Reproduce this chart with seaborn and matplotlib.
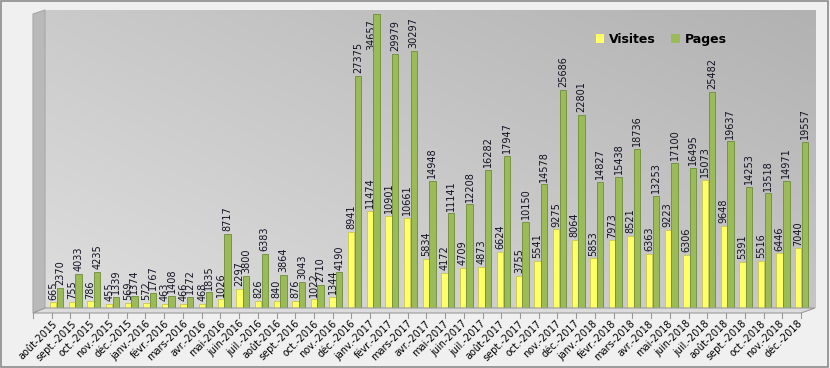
# monthly visits / pages chart
import numpy as np
import pandas as pd
import matplotlib
matplotlib.use('Agg')
import matplotlib.pyplot as plt
from matplotlib.patches import Polygon, Rectangle
from matplotlib.transforms import ScaledTranslation
import seaborn as sns

# data
months = ['août-2015', 'sept.-2015', 'oct.-2015', 'nov.-2015', 'déc.-2015',
          'janv.-2016', 'févr.-2016', 'mars-2016', 'avr.-2016', 'mai-2016',
          'juin-2016', 'juil.-2016', 'août-2016', 'sept.-2016', 'oct.-2016',
          'nov.-2016', 'déc.-2016', 'janv.-2017', 'févr.-2017', 'mars-2017',
          'avr.-2017', 'mai-2017', 'juin-2017', 'juil.-2017', 'août-2017',
          'sept.-2017', 'oct.-2017', 'nov.-2017', 'déc.-2017', 'janv.-2018',
          'févr.-2018', 'mars-2018', 'avr.-2018', 'mai-2018', 'juin-2018',
          'juil.-2018', 'août-2018', 'sept.-2018', 'oct.-2018', 'nov.-2018',
          'déc.-2018']
visites = [665, 755, 786, 455, 569, 572, 463, 466, 468, 1026,
           2297, 826, 840, 876, 1022, 1344, 8941, 11474, 10901, 10661,
           5834, 4172, 4709, 4873, 6624, 3755, 5541, 9275, 8064, 5853,
           7973, 8521, 6363, 9223, 6306, 15073, 9648, 5391, 5516, 6446,
           7040]
pages = [2370, 4033, 4235, 1339, 1374, 1767, 1408, 1272, 1835, 8717,
         3800, 6383, 3864, 3043, 2710, 4190, 27375, 34657, 29979, 30297,
         14948, 11141, 12208, 16282, 17947, 10150, 14578, 25686, 22801, 14827,
         15438, 18736, 13253, 17100, 16495, 25482, 19637, 14253, 13518, 14971,
         19557]

df = pd.DataFrame({'mois': months * 2,
                   'valeur': visites + pages,
                   'serie': ['Visites'] * len(months) + ['Pages'] * len(months)})

W, H = 830, 368
fig = plt.figure(figsize=(W / 100, H / 100), dpi=100, facecolor='#f0f0f0')

def fx(px):
    return px / W

def fy(py):
    return 1 - py / H

# outer border
fig.patches.append(Rectangle((0.001, 0.002), 0.997, 0.995, transform=fig.transFigure,
                             fill=False, edgecolor='#8c8c8c', linewidth=1.2))

# left wall
fig.patches.append(Polygon([(fx(33), fy(313)), (fx(33), fy(14)), (fx(45), fy(10)),
                            (fx(45), fy(308))], closed=True, transform=fig.transFigure,
                           facecolor='#b9b9b9', edgecolor='#a8a8a8', linewidth=0.8, zorder=0))
# floor
fig.patches.append(Polygon([(fx(33), fy(313)), (fx(45), fy(308)), (fx(815), fy(308)),
                            (fx(801), fy(313))], closed=True, transform=fig.transFigure,
                           facecolor='#dcdcdc', edgecolor='#9a9a9a', linewidth=0.8, zorder=0))

ax = fig.add_axes([fx(45), fy(308), fx(815) - fx(45), fy(10) - fy(308)])
ax.set_facecolor('none')

# gradient back wall
gx, gy = np.meshgrid(np.linspace(0, 1, 200), np.linspace(0, 1, 100))
grad = 0.55 * gx + 0.45 * gy
ax.imshow(grad, cmap=matplotlib.colors.LinearSegmentedColormap.from_list(
    'wall', ['#dedede', '#b2b2b2']), extent=[0, 1, 0, 1], origin='lower',
    transform=ax.transAxes, aspect='auto', zorder=0)

sns.barplot(data=df, x='mois', y='valeur', hue='serie', order=months,
            hue_order=['Visites', 'Pages'], palette=['#ffff66', '#9bbb59'],
            width=0.72, gap=0.05, ax=ax, zorder=2, saturation=1)

ax.set_xlim(-0.62, 40.72)
ax.set_ylim(0, 35130)

edge = {'Visites': '#c8c84a', 'Pages': '#6e8c38'}
for cont, name in zip(ax.containers, ['Visites', 'Pages']):
    for b in cont:
        b.set_edgecolor(edge[name])
        b.set_linewidth(0.6)
    labels = []
    for b, v in zip(cont, cont.datavalues):
        if v > 0.93 * ax.get_ylim()[1]:
            # no room above: put it beside the bar top
            labels.append('')
            ax.text(b.get_x() - 0.1, v - 600, str(int(v)), rotation=90, ha='center',
                    va='top', fontsize=7, color='#111122', zorder=1)
        else:
            labels.append(str(int(v)))
    ax.bar_label(cont, labels=labels, rotation=90, fontsize=7, padding=2, color='#111122')

ax.set_yticks([])
ax.set_xlabel('')
ax.set_ylabel('')
for s in ax.spines.values():
    s.set_visible(False)

ax.set_xticks(range(len(months)))
ax.set_xticklabels(months, rotation=45, ha='right', rotation_mode='anchor', fontsize=7)
ax.tick_params(axis='x', length=0, pad=6)
off = ScaledTranslation(-4 / 100, -2 / 100, fig.dpi_scale_trans)
for lab in ax.get_xticklabels():
    lab.set_transform(lab.get_transform() + off)

# tick marks along the floor front edge
for i in range(len(months) + 1):
    x0 = fx(33) + i * (fx(801) - fx(33)) / len(months)
    fig.add_artist(plt.Line2D([x0, x0], [fy(313), fy(318)], color='#9a9a9a',
                              linewidth=0.8, transform=fig.transFigure))

leg = ax.legend(loc='upper right', bbox_to_anchor=(0.9, 0.96), ncol=2, frameon=False,
                handlelength=0.7, handleheight=0.7, handletextpad=0.4, columnspacing=1.2,
                prop={'weight': 'bold', 'size': 9})

fig.savefig('out.png', dpi=100, facecolor=fig.get_facecolor())
